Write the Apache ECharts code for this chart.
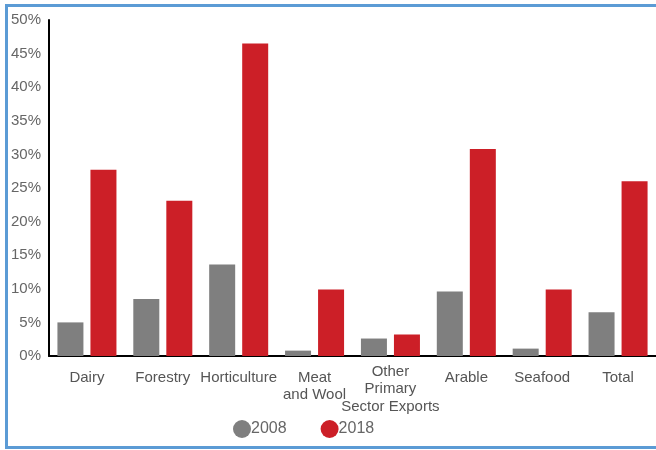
<!DOCTYPE html>
<html><head><meta charset="utf-8">
<script src="https://cdn.jsdelivr.net/npm/echarts@6/dist/echarts.min.js"></script>
<style>html,body{margin:0;padding:0;background:#fff}#c{width:656px;height:450px}</style>
</head><body><div id="c"></div>
<script>
const categories = ['Dairy', 'Forestry', 'Horticulture', 'Meat\nand Wool', 'Other\nPrimary\nSector Exports', 'Arable', 'Seafood', 'Total'];
const values2008 = [5.0, 8.5, 13.6, 0.8, 2.6, 9.6, 1.1, 6.5];
const values2018 = [27.7, 23.1, 46.5, 9.9, 3.2, 30.8, 9.9, 26.0];
const yTicks = [0, 5, 10, 15, 20, 25, 30, 35, 40, 45, 50];

const FONT = '"Liberation Sans", Arial, sans-serif';
const chart = echarts.init(document.getElementById('c'));
chart.setOption({
  animation: false,
  textStyle: { fontFamily: FONT },
  graphic: [{
    type: 'rect', shape: { x: 6.5, y: 5.5, width: 680, height: 442 },
    style: { fill: 'none', stroke: '#5b9bd5', lineWidth: 3 }, silent: true, z: 100
  }],
  legend: {
    top: 415, left: 228, itemGap: 34, itemWidth: 18, itemHeight: 18,
    icon: 'circle',
    textStyle: { fontFamily: FONT, fontSize: 16, color: '#666', padding: [2, 0, 0, -5] },
    data: ['2008', '2018']
  },
  grid: { left: 49, right: -1, top: 20, bottom: 94 },
  xAxis: {
    type: 'category', data: categories.map(c => c === 'Other\nPrimary\nSector Exports'
      ? { value: c, textStyle: { padding: [-6, 0, 0, 0], lineHeight: 17.5 } } : c),
    axisLine: { lineStyle: { color: '#000', width: 2 } },
    axisTick: { show: false },
    axisLabel: { interval: 0, color: '#555', fontFamily: FONT, fontSize: 15, lineHeight: 17, margin: 13 }
  },
  yAxis: {
    type: 'value', min: yTicks[0], max: yTicks[yTicks.length - 1], interval: 5,
    axisLine: { show: true, lineStyle: { color: '#000', width: 2 } },
    axisTick: { show: false },
    splitLine: { show: false },
    axisLabel: { formatter: '{value}%', color: '#666', fontFamily: FONT, fontSize: 15, margin: 8 }
  },
  series: [
    { name: '2008', type: 'bar', data: values2008, barWidth: 26, barGap: '27%', itemStyle: { color: '#7f7f7f' } },
    { name: '2018', type: 'bar', data: values2018, barWidth: 26, itemStyle: { color: '#cc1f27' } }
  ]
});
</script></body></html>
